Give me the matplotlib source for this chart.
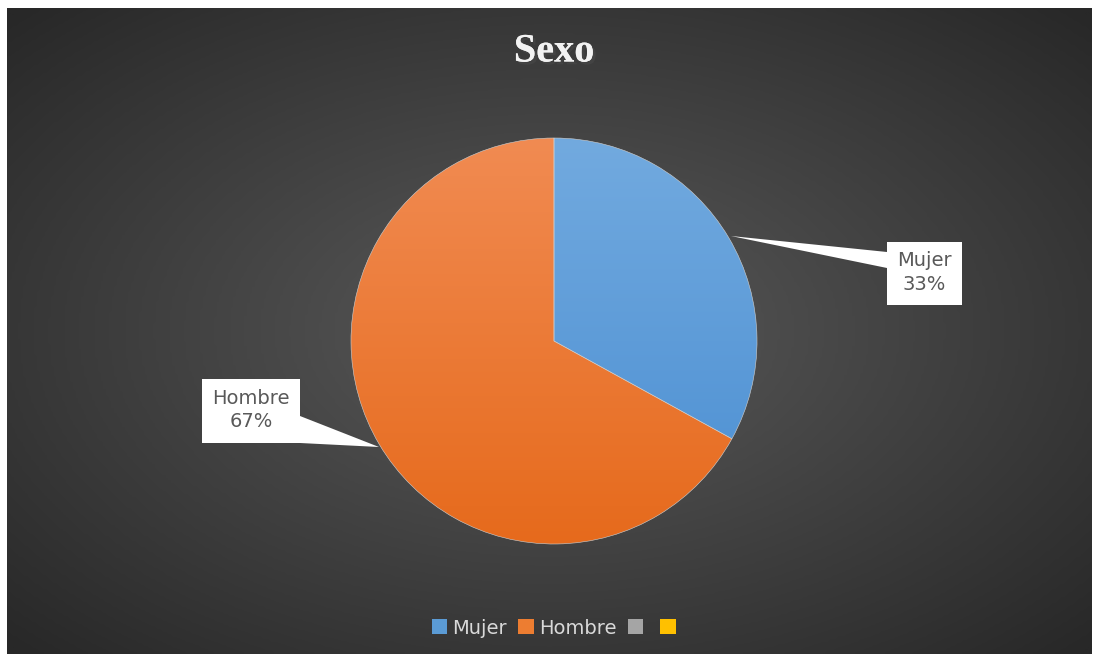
import numpy as np
import matplotlib
matplotlib.use("Agg")
import matplotlib.pyplot as plt
import matplotlib.patheffects as pe
from matplotlib.patches import Rectangle, Polygon
from matplotlib.colors import LinearSegmentedColormap

# data
categories = ["Mujer", "Hombre"]
values = [33, 67]
legend_labels = ["Mujer", "Hombre", "", ""]
legend_colors = ["#5b9bd5", "#ed7d31", "#a5a5a5", "#ffc000"]
title = "Sexo"

W, H = 1097, 659
fig = plt.figure(figsize=(W / 100, H / 100), dpi=100, facecolor="white")
ax = fig.add_axes([0, 0, 1, 1])
ax.set_xlim(0, W)
ax.set_ylim(0, H)
ax.axis("off")

# dark radial background
x0, x1, y0, y1 = 7, 1092, 5, 651
gx, gy = np.meshgrid(np.linspace(-1, 1, 400), np.linspace(-1, 1, 240))
r = np.clip(np.sqrt(gx ** 2 + gy ** 2) / 1.4, 0, 1)
bg_cmap = LinearSegmentedColormap.from_list("bg", ["#5a5a5a", "#414141", "#282828"])
ax.imshow(r, cmap=bg_cmap, extent=(x0, x1, y0, y1), origin="lower",
          aspect="auto", zorder=0, interpolation="bilinear")

# pie
cx, cy, rad = 554, 318, 203
wedges, _ = ax.pie(values, center=(cx, cy), radius=rad, startangle=90,
                   counterclock=False, frame=True,
                   wedgeprops=dict(edgecolor="#d0d0d0", linewidth=0.4))
ax.set_xlim(0, W)
ax.set_ylim(0, H)
ax.set_aspect("auto")

grad_colors = [("#4a8ed2", "#72aadf"), ("#e66a1c", "#f18b52")]
grad = np.linspace(0, 1, 256).reshape(-1, 1)
for w, (c_bot, c_top) in zip(wedges, grad_colors):
    cm = LinearSegmentedColormap.from_list("g", [c_bot, c_top])
    w.set_facecolor("none")
    im = ax.imshow(grad, cmap=cm, extent=(cx - rad, cx + rad, cy - rad, cy + rad),
                   origin="lower", aspect="auto", zorder=1, interpolation="bilinear")
    im.set_clip_path(w)
    w.set_zorder(2)

# callout labels (pixel coords, y measured from top)
callouts = [
    dict(box=(887, 242, 962, 305), tri=[(731, 236), (887, 252), (887, 268)]),
    dict(box=(202, 379, 300, 443), tri=[(379, 447), (300, 416), (300, 443)]),
]
for cat, val, c in zip(categories, values, callouts):
    bx0, by0, bx1, by1 = c["box"]
    tri = [(px, H - py) for px, py in c["tri"]]
    ax.add_patch(Polygon(tri, closed=True, facecolor="white", edgecolor="none", zorder=3))
    ax.add_patch(Rectangle((bx0, H - by1), bx1 - bx0, by1 - by0,
                           facecolor="white", edgecolor="none", zorder=4))
    ax.text((bx0 + bx1) / 2, H - (by0 + by1) / 2 + 1, f"{cat}\n{val}%",
            ha="center", va="center", fontsize=14, color="#595959",
            linespacing=1.3, zorder=5)

# title
ax.text(554, H - 52, title, ha="center", va="center", fontsize=29,
        fontweight="bold", family="Liberation Serif", color="#f2f2f2",
        path_effects=[pe.withSimplePatchShadow(offset=(2, -2), alpha=0.6), pe.Normal()],
        zorder=5)

# legend
handles = [Rectangle((0, 0), 1, 1, facecolor=c, edgecolor="none") for c in legend_colors]
leg = ax.legend(handles, legend_labels, loc="center", bbox_to_anchor=(556 / W, 1 - 628 / H),
                ncol=4, frameon=False, fontsize=14, handlelength=0.8, handleheight=0.8,
                handletextpad=0.25, columnspacing=0.6, labelcolor="#d9d9d9")

fig.savefig("out.png", dpi=100, facecolor="white")
